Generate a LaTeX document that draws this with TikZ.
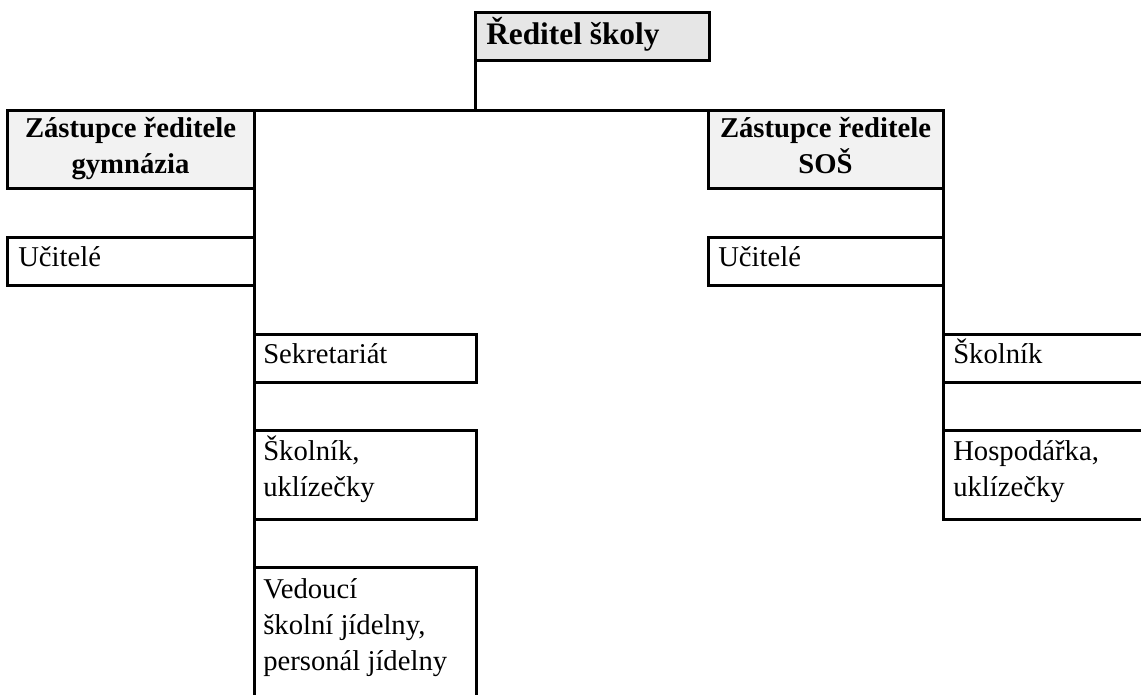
\documentclass[tikz,border=0pt]{standalone}
\usepackage{fontspec}
\setmainfont{Liberation Serif}
\newfontfamily\tnr{Liberation Serif}
\definecolor{headfill}{HTML}{E6E6E6}
\definecolor{subfill}{HTML}{F2F2F2}
\tikzset{
  boxline/.style={draw=black, line width=2.25pt},
  orgbox/.style={boxline, rectangle, inner sep=0pt, outer sep=0pt, anchor=north west},
  txt/.style={inner sep=0pt, anchor=base west, align=left, font=\tnr\fontsize{21.5pt}{27pt}\selectfont},
  btxt/.style={inner sep=0pt, anchor=base, align=center, font=\tnr\fontsize{21.5pt}{27pt}\selectfont\bfseries},
  conn/.style={draw=black, line width=2.25pt}
}
\begin{document}
\begin{tikzpicture}[x=0.75pt,y=-0.75pt]
\useasboundingbox (0,0) rectangle (1141,695);
\clip (0,0) rectangle (1141,695);
% director
\node[orgbox, fill=headfill, minimum width=234*0.75pt, minimum height=48*0.75pt] (dir) at (475,13) {};
\node[inner sep=0pt, anchor=base west, font=\tnr\fontsize{23.5pt}{28pt}\selectfont\bfseries] (dirt) at (486,45) {Ředitel školy};
% deputies
\node[orgbox, fill=subfill, minimum width=247*0.75pt, minimum height=78*0.75pt] (zg) at (7,111) {};
\node[btxt] (zgt) at (130.5,174) {Zástupce ředitele\\gymnázia};
\node[orgbox, fill=subfill, minimum width=235*0.75pt, minimum height=78*0.75pt] (zs) at (708,111) {};
\node[btxt] (zst) at (825.5,174) {Zástupce ředitele\\SOŠ};
% teachers
\node[orgbox, minimum width=247*0.75pt, minimum height=47*0.75pt] (ug) at (7,238) {};
\node[txt] (ugt) at (18,267) {Učitelé};
\node[orgbox, minimum width=235*0.75pt, minimum height=47*0.75pt] (us) at (708,238) {};
\node[txt] (ust) at (718,267) {Učitelé};
% left staff
\node[orgbox, minimum width=222*0.75pt, minimum height=48*0.75pt] (sek) at (254,334) {};
\node[txt] (sekt) at (263,363) {Sekretariát};
\node[orgbox, minimum width=222*0.75pt, minimum height=89*0.75pt] (skl) at (254,430) {};
\node[txt] (sklt) at (263,496) {Školník,\\uklízečky};
\node[orgbox, minimum width=222*0.75pt, minimum height=160*0.75pt] (ved) at (254,567) {};
\node[txt] (vedt) at (263,670) {Vedoucí\\školní jídelny,\\personál jídelny};
% right staff
\node[orgbox, minimum width=250*0.75pt, minimum height=48*0.75pt] (sks) at (943,334) {};
\node[txt] (skst) at (953,363) {Školník};
\node[orgbox, minimum width=250*0.75pt, minimum height=89*0.75pt] (hos) at (943,430) {};
\node[txt] (host) at (953,496) {Hospodářka,\\uklízečky};
% connectors
\coordinate (top) at (dir.south west |- zg.north);
\draw[conn] (dir.south west) -- (top);
\draw[conn] (zg.north east) -- (zs.north west);
\draw[conn] (zg.north east) -- (ved.north west);
\draw[conn] (zs.north east) -- (hos.north west);
\end{tikzpicture}
\end{document}
